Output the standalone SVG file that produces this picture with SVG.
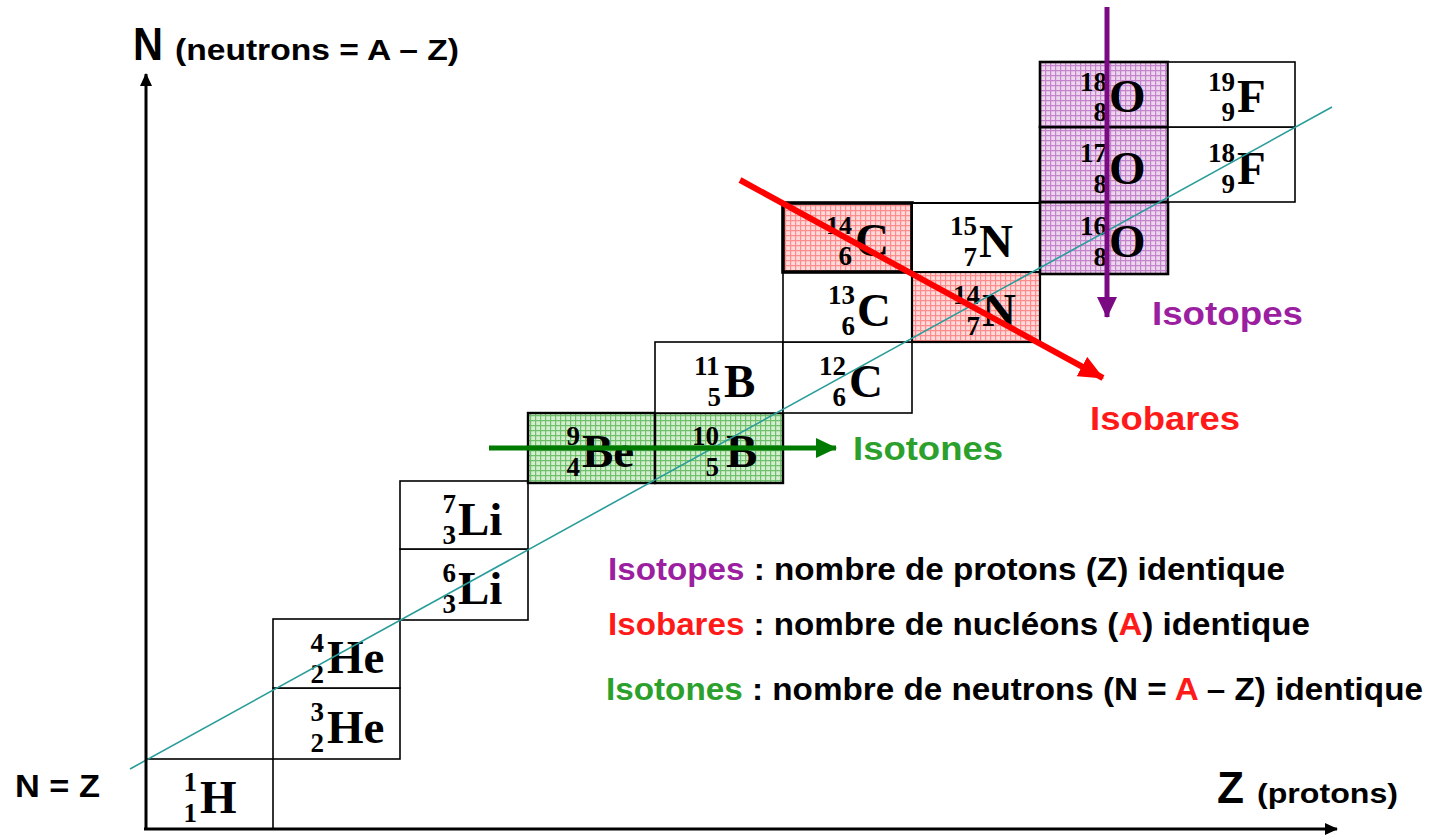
<svg xmlns="http://www.w3.org/2000/svg" width="1429" height="835" viewBox="0 0 1429 835">
<style>
.cell{fill:#fff;stroke:#000;stroke-width:1.6}
.nuc{font-family:"Liberation Serif",serif;font-weight:bold;font-size:27px;fill:#000}
.sym{font-size:47px}
.lab{font-family:"Liberation Sans",Arial,sans-serif;font-weight:bold;fill:#000}
.teal{stroke:#2a9d9a;stroke-width:1.6;fill:none}
</style>
<defs>
<pattern id="pg" width="5" height="5" patternUnits="userSpaceOnUse"><rect width="5" height="5" fill="#d4efcf"/><path d="M0 0.6H5M0.6 0V5" stroke="#6fbf6c" stroke-width="1.2"/></pattern>
<pattern id="pr" width="5" height="5" patternUnits="userSpaceOnUse"><rect width="5" height="5" fill="#ffdada"/><path d="M0 0.6H5M0.6 0V5" stroke="#ff8c8c" stroke-width="1.2"/></pattern>
<pattern id="pp" width="5" height="5" patternUnits="userSpaceOnUse"><rect width="5" height="5" fill="#eed6ee"/><path d="M0 0.6H5M0.6 0V5" stroke="#c484cc" stroke-width="1.2"/></pattern>
<marker id="ab" markerUnits="userSpaceOnUse" markerWidth="14" markerHeight="12" refX="12" refY="6" orient="auto"><path d="M0 0L13 6L0 12Z" fill="#000"/></marker>
<marker id="ag" markerUnits="userSpaceOnUse" markerWidth="22" markerHeight="20" refX="20" refY="10" orient="auto"><path d="M0 0L21 10L0 20Z" fill="#007a00"/></marker>
<marker id="ar" markerUnits="userSpaceOnUse" markerWidth="26" markerHeight="22" refX="24" refY="11" orient="auto"><path d="M0 0L25 11L0 22Z" fill="#ff0000"/></marker>
<marker id="ap" markerUnits="userSpaceOnUse" markerWidth="22" markerHeight="20" refX="20" refY="10" orient="auto"><path d="M0 0L21 10L0 20Z" fill="#7a0a82"/></marker>
</defs>
<rect width="1429" height="835" fill="#fff"/>

<g id="H1"><rect class="cell" x="146" y="759" width="127" height="70"/><text class="nuc"><tspan x="183.5" y="791">1</tspan><tspan x="183.5" y="822">1</tspan><tspan class="sym" x="200" y="813">H</tspan></text></g>
<g id="He3"><rect class="cell" x="273" y="688" width="127" height="71"/><text class="nuc"><tspan x="310.5" y="721">3</tspan><tspan x="310.5" y="752">2</tspan><tspan class="sym" x="327" y="743">He</tspan></text></g>
<g id="He4"><rect class="cell" x="273" y="619" width="127" height="69"/><text class="nuc"><tspan x="310.5" y="652">4</tspan><tspan x="310.5" y="683">2</tspan><tspan class="sym" x="327" y="673">He</tspan></text></g>
<g id="Li6"><rect class="cell" x="400" y="549" width="128" height="71"/><text class="nuc"><tspan x="442.5" y="582">6</tspan><tspan x="442.5" y="613">3</tspan><tspan class="sym" x="458" y="604">Li</tspan></text></g>
<g id="Li7"><rect class="cell" x="400" y="481" width="128" height="68"/><text class="nuc"><tspan x="442.5" y="513">7</tspan><tspan x="442.5" y="544">3</tspan><tspan class="sym" x="458" y="535">Li</tspan></text></g>
<g id="Be9"><rect x="528" y="413" width="127" height="70" fill="url(#pg)" stroke="#000" stroke-width="2.4"/><text class="nuc"><tspan x="566.5" y="445">9</tspan><tspan x="566.5" y="476">4</tspan><tspan class="sym" x="582" y="467">Be</tspan></text></g>
<g id="B10"><rect x="655" y="413" width="128" height="70" fill="url(#pg)" stroke="#000" stroke-width="2.4"/><text class="nuc"><tspan x="692" y="445">10</tspan><tspan x="705.5" y="476">5</tspan><tspan class="sym" x="726" y="467">B</tspan></text></g>
<g id="B11"><rect class="cell" x="655" y="342" width="128" height="71"/><text class="nuc"><tspan x="694" y="375">11</tspan><tspan x="707.5" y="406">5</tspan><tspan class="sym" x="724" y="397">B</tspan></text></g>
<g id="C12"><rect class="cell" x="783" y="342" width="129" height="71"/><text class="nuc"><tspan x="819" y="375">12</tspan><tspan x="832.5" y="406">6</tspan><tspan class="sym" x="849" y="397">C</tspan></text></g>
<g id="C13"><rect class="cell" x="783" y="272" width="129" height="70"/><text class="nuc"><tspan x="828" y="304">13</tspan><tspan x="841.5" y="335">6</tspan><tspan class="sym" x="857" y="326">C</tspan></text></g>
<g id="C14"><rect x="783" y="203" width="129" height="69" fill="url(#pr)" stroke="#000" stroke-width="3.6"/><text class="nuc"><tspan x="826" y="234" font-size="26">14</tspan><tspan x="838.5" y="265">6</tspan><tspan class="sym" x="855" y="256">C</tspan></text></g>
<g id="N14"><rect x="912" y="272" width="128" height="70" fill="url(#pr)" stroke="#000" stroke-width="2.2"/><text class="nuc"><tspan x="953" y="304">14</tspan><tspan x="966.5" y="335">7</tspan><tspan class="sym" x="982" y="326">N</tspan></text></g>
<g id="N15"><rect class="cell" x="912" y="203" width="128" height="69" style="stroke-width:2"/><text class="nuc"><tspan x="950" y="235">15</tspan><tspan x="963.5" y="266">7</tspan><tspan class="sym" x="979" y="257">N</tspan></text></g>
<g id="O16"><rect x="1040" y="202" width="128" height="72" fill="url(#pp)" stroke="#000" stroke-width="2.6"/><text class="nuc"><tspan x="1080" y="235">16</tspan><tspan x="1093.5" y="266">8</tspan><tspan class="sym" x="1109" y="257">O</tspan></text></g>
<g id="O17"><rect x="1040" y="127" width="128" height="75" fill="url(#pp)" stroke="#000" stroke-width="2.6"/><text class="nuc"><tspan x="1080" y="162">17</tspan><tspan x="1093.5" y="193">8</tspan><tspan class="sym" x="1109" y="184">O</tspan></text></g>
<g id="O18"><rect x="1040" y="62" width="128" height="65" fill="url(#pp)" stroke="#000" stroke-width="2.6"/><text class="nuc"><tspan x="1080" y="91">18</tspan><tspan x="1093.5" y="121">8</tspan><tspan class="sym" x="1109" y="112">O</tspan></text></g>
<g id="F18"><rect class="cell" x="1168" y="127" width="127" height="75"/><text class="nuc"><tspan x="1208" y="162">18</tspan><tspan x="1221.5" y="193">9</tspan><tspan class="sym" x="1237" y="184">F</tspan></text></g>
<g id="F19"><rect class="cell" x="1168" y="62" width="127" height="65"/><text class="nuc"><tspan x="1208" y="91">19</tspan><tspan x="1221.5" y="121">9</tspan><tspan class="sym" x="1237" y="112">F</tspan></text></g>

<g id="connectors">
<line class="teal" x1="130" y1="769" x2="1332" y2="107"/>
<line x1="146" y1="830" x2="146" y2="74" stroke="#000" stroke-width="3" marker-end="url(#ab)"/>
<line x1="144" y1="829" x2="1337" y2="829" stroke="#000" stroke-width="3" marker-end="url(#ab)"/>
<line x1="489" y1="448" x2="836" y2="448" stroke="#007a00" stroke-width="5" marker-end="url(#ag)"/>
<line x1="740" y1="180" x2="1103" y2="378" stroke="#ff0000" stroke-width="6" marker-end="url(#ar)"/>
<line x1="1107" y1="7" x2="1107" y2="317" stroke="#7a0a82" stroke-width="5" marker-end="url(#ap)"/>
</g>

<g id="labels">
<text class="lab" x="133" y="60" font-size="46" textLength="30" lengthAdjust="spacingAndGlyphs">N</text>
<text class="lab" x="175" y="60" font-size="30" textLength="284" lengthAdjust="spacingAndGlyphs">(neutrons = A – Z)</text>
<text class="lab" x="1217" y="803" font-size="44" textLength="27" lengthAdjust="spacingAndGlyphs">Z</text>
<text class="lab" x="1257" y="803" font-size="28" textLength="141" lengthAdjust="spacingAndGlyphs">(protons)</text>
<text class="lab" x="15" y="797" font-size="31" textLength="85" lengthAdjust="spacingAndGlyphs">N = Z</text>
<text class="lab" x="853" y="460" font-size="33" style="fill:#2ca02c" textLength="150" lengthAdjust="spacingAndGlyphs">Isotones</text>
<text class="lab" x="1090" y="430" font-size="33" style="fill:#ff1a1a" textLength="150" lengthAdjust="spacingAndGlyphs">Isobares</text>
<text class="lab" x="1152" y="325" font-size="33" style="fill:#9b1fa0" textLength="151" lengthAdjust="spacingAndGlyphs">Isotopes</text>
<text class="lab" x="608" y="580" font-size="31" textLength="677" lengthAdjust="spacingAndGlyphs"><tspan style="fill:#9b1fa0">Isotopes</tspan> : nombre de protons (Z) identique</text>
<text class="lab" x="608" y="635" font-size="31" textLength="702" lengthAdjust="spacingAndGlyphs"><tspan style="fill:#ff1a1a">Isobares</tspan> : nombre de nucléons (<tspan style="fill:#ff1a1a">A</tspan>) identique</text>
<text class="lab" x="606" y="700" font-size="31" textLength="817" lengthAdjust="spacingAndGlyphs"><tspan style="fill:#2ca02c">Isotones</tspan> : nombre de neutrons (N = <tspan style="fill:#ff1a1a">A</tspan> – Z) identique</text>
</g>
</svg>
